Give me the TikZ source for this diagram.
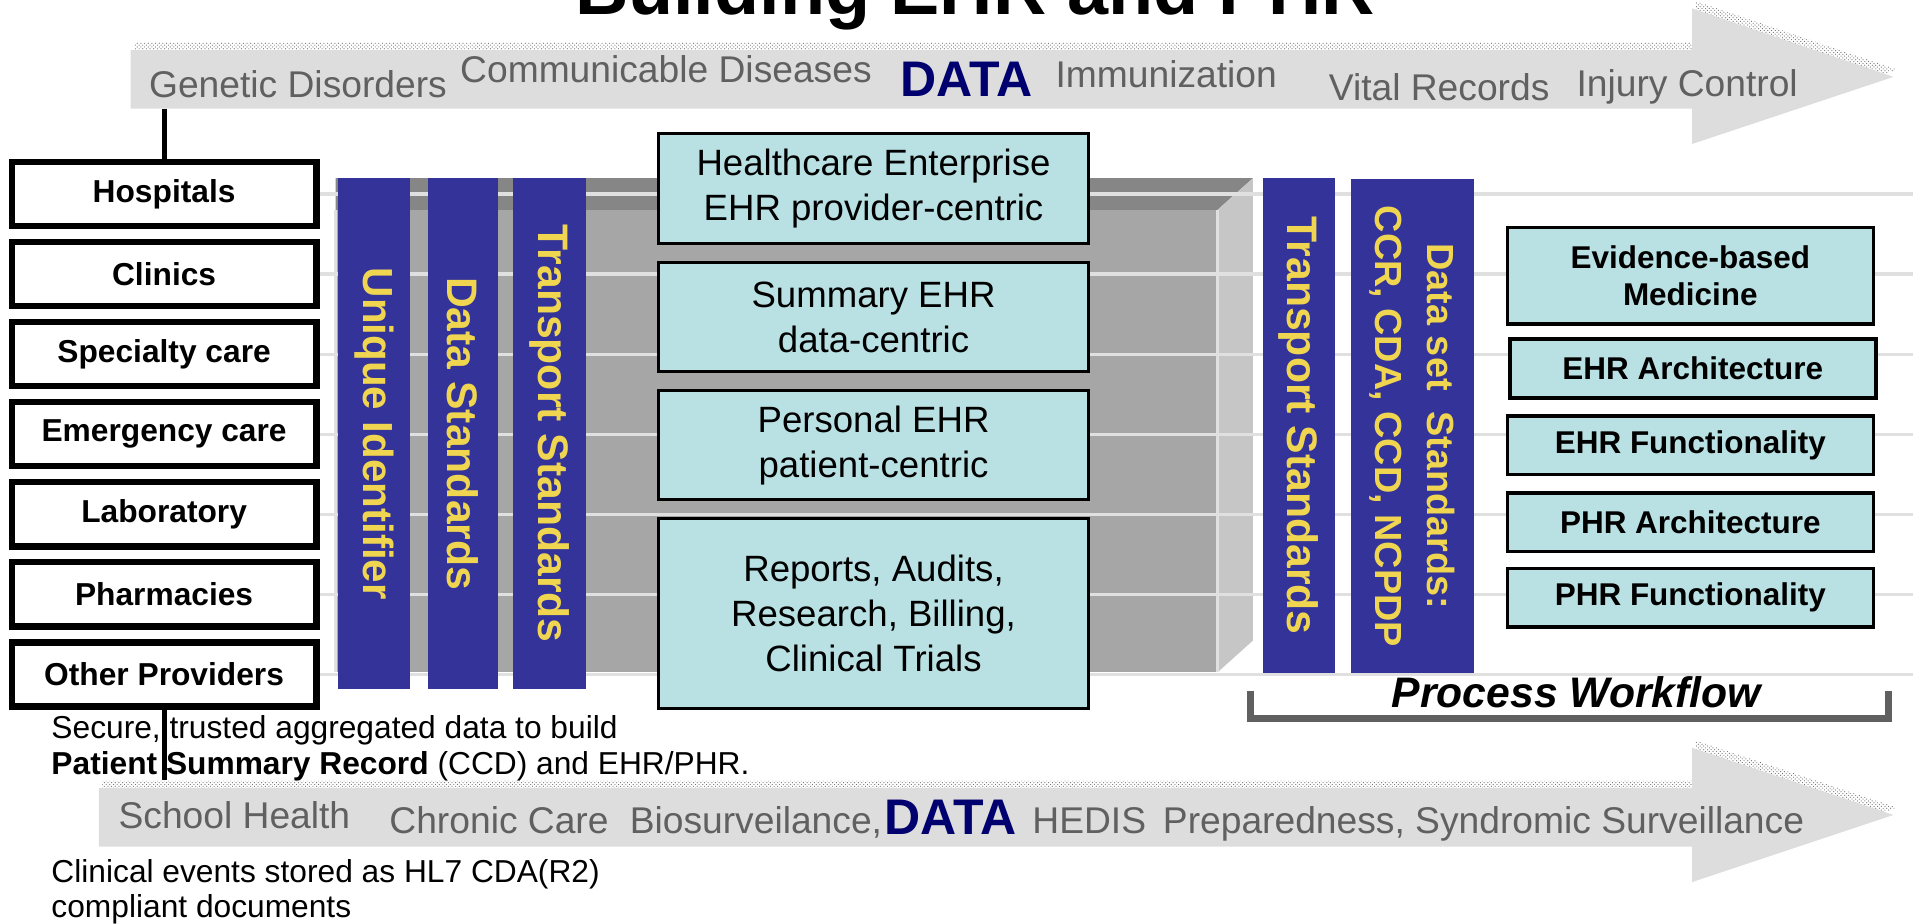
\documentclass[tikz,border=0pt]{standalone}
\usepackage{fontspec}
\setmainfont{Liberation Sans}
\usetikzlibrary{positioning, patterns}
\definecolor{arrowgray}{RGB}{221,221,221}
\definecolor{labelgray}{RGB}{96,96,96}
\definecolor{datanavy}{RGB}{0,0,110}
\definecolor{barblue}{RGB}{51,51,153}
\definecolor{baryellow}{RGB}{240,214,80}
\definecolor{boxteal}{RGB}{185,225,228}
\definecolor{ceilgray}{RGB}{134,134,134}
\definecolor{backgray}{RGB}{166,166,166}
\definecolor{wallgray}{RGB}{198,198,198}
\definecolor{gridgray}{RGB}{224,224,224}

\begin{document}
\begin{tikzpicture}[x=1pt,y=-1pt,
	arrowbody/.style={fill=arrowgray},
	arrowshade/.style={pattern=crosshatch dots,pattern color=black!55},
	arrowlabel/.style={anchor=base west,inner sep=0,text=labelgray,font=\fontsize{30.5}{36}\selectfont},
	datalabel/.style={anchor=base west,inner sep=0,text=datanavy,font=\fontsize{41}{46}\selectfont\bfseries},
	source/.style={draw,line width=5.5pt,fill=white,minimum width=249.5pt,minimum height=52.5pt,inner sep=0,font=\fontsize{26}{30}\selectfont\bfseries},
	gridline/.style={draw=gridgray,line width=2.5pt},
	link/.style={draw,line width=4pt},
	standard/.style={fill=barblue,text=baryellow,rotate=-90,inner sep=0,align=center},
	ehrbox/.style={draw,line width=2.5pt,fill=boxteal,minimum width=352.5pt,inner sep=0,align=center,font=\fontsize{30}{37}\selectfont},
	topic/.style={draw,line width=3pt,fill=boxteal,minimum width=300pt,minimum height=48pt,inner sep=0,align=center,font=\fontsize{25.8}{30.5}\selectfont\bfseries},
	bracket/.style={draw=labelgray,line width=6pt},
	note/.style={anchor=base west,inner sep=0,font=\fontsize{26}{30}\selectfont}]
	\useasboundingbox (0,0) rectangle (1568,757);
	\coordinate (rim) at (1568,0);

	\fill[arrowshade,shift={(3,-6)}] (107,41) -- (1387,41) -- (1387,7) -- (1552,63) -- (1387,118) -- (1387,89) -- (107,89) -- cycle;
	\fill[arrowbody] (107,41) -- (1387,41) -- (1387,7) -- (1552,63) -- (1387,118) -- (1387,89) -- (107,89) -- cycle;
	\fill[arrowshade,shift={(3,-6)}] (81,646) -- (1387,646) -- (1387,613) -- (1552,668) -- (1387,723) -- (1387,694) -- (81,694) -- cycle;
	\fill[arrowbody] (81,646) -- (1387,646) -- (1387,613) -- (1552,668) -- (1387,723) -- (1387,694) -- (81,694) -- cycle;

	\draw node (title)[anchor=base,font=\fontsize{60.5}{70}\selectfont\bfseries] at (799,12) {Building EHR and PHR};

	\draw node (gen)[arrowlabel] at (122,80) {Genetic Disorders};
	\draw node (comm)[arrowlabel] at (377,68) {Communicable Diseases};
	\draw node (datatop)[datalabel] at (738,79) {DATA};
	\draw node (immu)[arrowlabel] at (865,72) {Immunization};
	\draw node (vital)[arrowlabel] at (1089,82) {Vital Records};
	\draw node (injury)[arrowlabel] at (1292,79) {Injury Control};

	\draw node (school)[arrowlabel] at (97,679) {School Health};
	\draw node (chronic)[arrowlabel] at (319,683) {Chronic Care};
	\draw node (bio)[arrowlabel] at (516,683) {Biosurveilance,};
	\draw node (databot)[datalabel] at (725,684) {DATA};
	\draw node (hedis)[arrowlabel] at (846,683) {HEDIS};
	\draw node (prep)[arrowlabel] at (953,683) {Preparedness, Syndromic Surveillance};

	\draw node (hosp)[source] at (134.5,159) {Hospitals};
	\draw node (clin)[source,below=7.6pt of hosp] {Clinics};
	\draw node (spec)[source,below=7.6pt of clin] {Specialty care};
	\draw node (emer)[source,below=7.6pt of spec] {Emergency care};
	\draw node (lab)[source,below=7.6pt of emer] {Laboratory};
	\draw node (pharm)[source,below=7.6pt of lab] {Pharmacies};
	\draw node (other)[source,below=7.6pt of pharm] {Other Providers};

	\fill[ceilgray] (275,146) -- (1027,146) -- (998,172) -- (275,172) -- cycle;
	\fill[backgray] (275,172) rectangle (998,551);
	\fill[wallgray] (998,172) -- (1027,146) -- (1027,525) -- (998,551) -- cycle;
	\draw[gridline] (275,172) -- (275,551);
	\draw[gridline] (998,172) -- (998,551);

	\draw[gridline] (hosp.east) -- (hosp.east -| rim);
	\draw[gridline] (clin.east) -- (clin.east -| rim);
	\draw[gridline] (spec.east) -- (spec.east -| rim);
	\draw[gridline] (emer.east) -- (emer.east -| rim);
	\draw[gridline] (lab.east) -- (lab.east -| rim);
	\draw[gridline] (pharm.east) -- (pharm.east -| rim);
	\draw[gridline] (other.east) -- (other.east -| rim);

	\draw node (uid)[standard,minimum width=419pt,minimum height=59pt,font=\fontsize{34.5}{40}\selectfont\bfseries] at (306.5,355.5) {Unique Identifier};
	\draw node (dstd)[standard,minimum width=419pt,minimum height=57.4pt,font=\fontsize{35}{40}\selectfont\bfseries] at (379.3,355.5) {Data Standards};
	\draw node (tstdl)[standard,minimum width=419pt,minimum height=59.3pt,font=\fontsize{35}{40}\selectfont\bfseries] at (450.4,355.5) {Transport Standards};
	\draw node (tstdr)[standard,minimum width=406pt,minimum height=59pt,font=\fontsize{35}{40}\selectfont\bfseries] at (1064.5,349) {Transport Standards};
	\draw node (dset)[standard,minimum width=405pt,minimum height=101pt,font=\fontsize{31}{42.5}\selectfont\bfseries] at (1157.5,349.5) {Data set\ \ Standards:\\CCR, CDA, CCD, NCPDP};

	\draw node (entr)[ehrbox,minimum height=90.5pt] at (716,154.5) {Healthcare Enterprise\\EHR provider-centric};
	\draw node (summ)[ehrbox,minimum height=89.5pt,below=13pt of entr] {Summary EHR\\data-centric};
	\draw node (pers)[ehrbox,minimum height=89.5pt,below=13pt of summ] {Personal EHR\\patient-centric};
	\draw node (rept)[ehrbox,minimum height=155.5pt,below=13pt of pers] {Reports, Audits,\\Research, Billing,\\Clinical Trials};

	\draw node (ebm)[topic,minimum height=79pt] at (1385.5,226) {Evidence-based\\Medicine};
	\draw node (ehra)[topic,below=9.5pt of ebm,xshift=2pt] {EHR Architecture};
	\draw node (ehrf)[topic,below=12pt of ehra,xshift=-2pt] {EHR Functionality};
	\draw node (phra)[topic,below=12pt of ehrf] {PHR Architecture};
	\draw node (phrf)[topic,below=11pt of phra] {PHR Functionality};

	\draw[bracket] (1025,566) -- (1025,589) -- (1548,589) -- (1548,566);
	\draw node (flow)[anchor=base,inner sep=0,font=\fontsize{35}{40}\selectfont\bfseries\itshape] at (1292,579.5) {Process Workflow};

	\draw node (secure)[note] at (42,605) {Secure, trusted aggregated data to build};
	\draw node (patient)[note] at (42,635) {\textbf{Patient Summary Record} (CCD) and EHR/PHR.};
	\draw node (clinical)[note] at (42,723) {Clinical events stored as HL7 CDA(R2)};
	\draw node (compliant)[note] at (42,752) {compliant documents};

	\coordinate (topfoot) at ([yshift=41pt]hosp.north);
	\coordinate (botfoot) at ([yshift=-58pt]other.south);
	\draw[link] (topfoot) -- (hosp.north);
	\draw[link] (other.south) -- (botfoot);
\end{tikzpicture}
\end{document}
